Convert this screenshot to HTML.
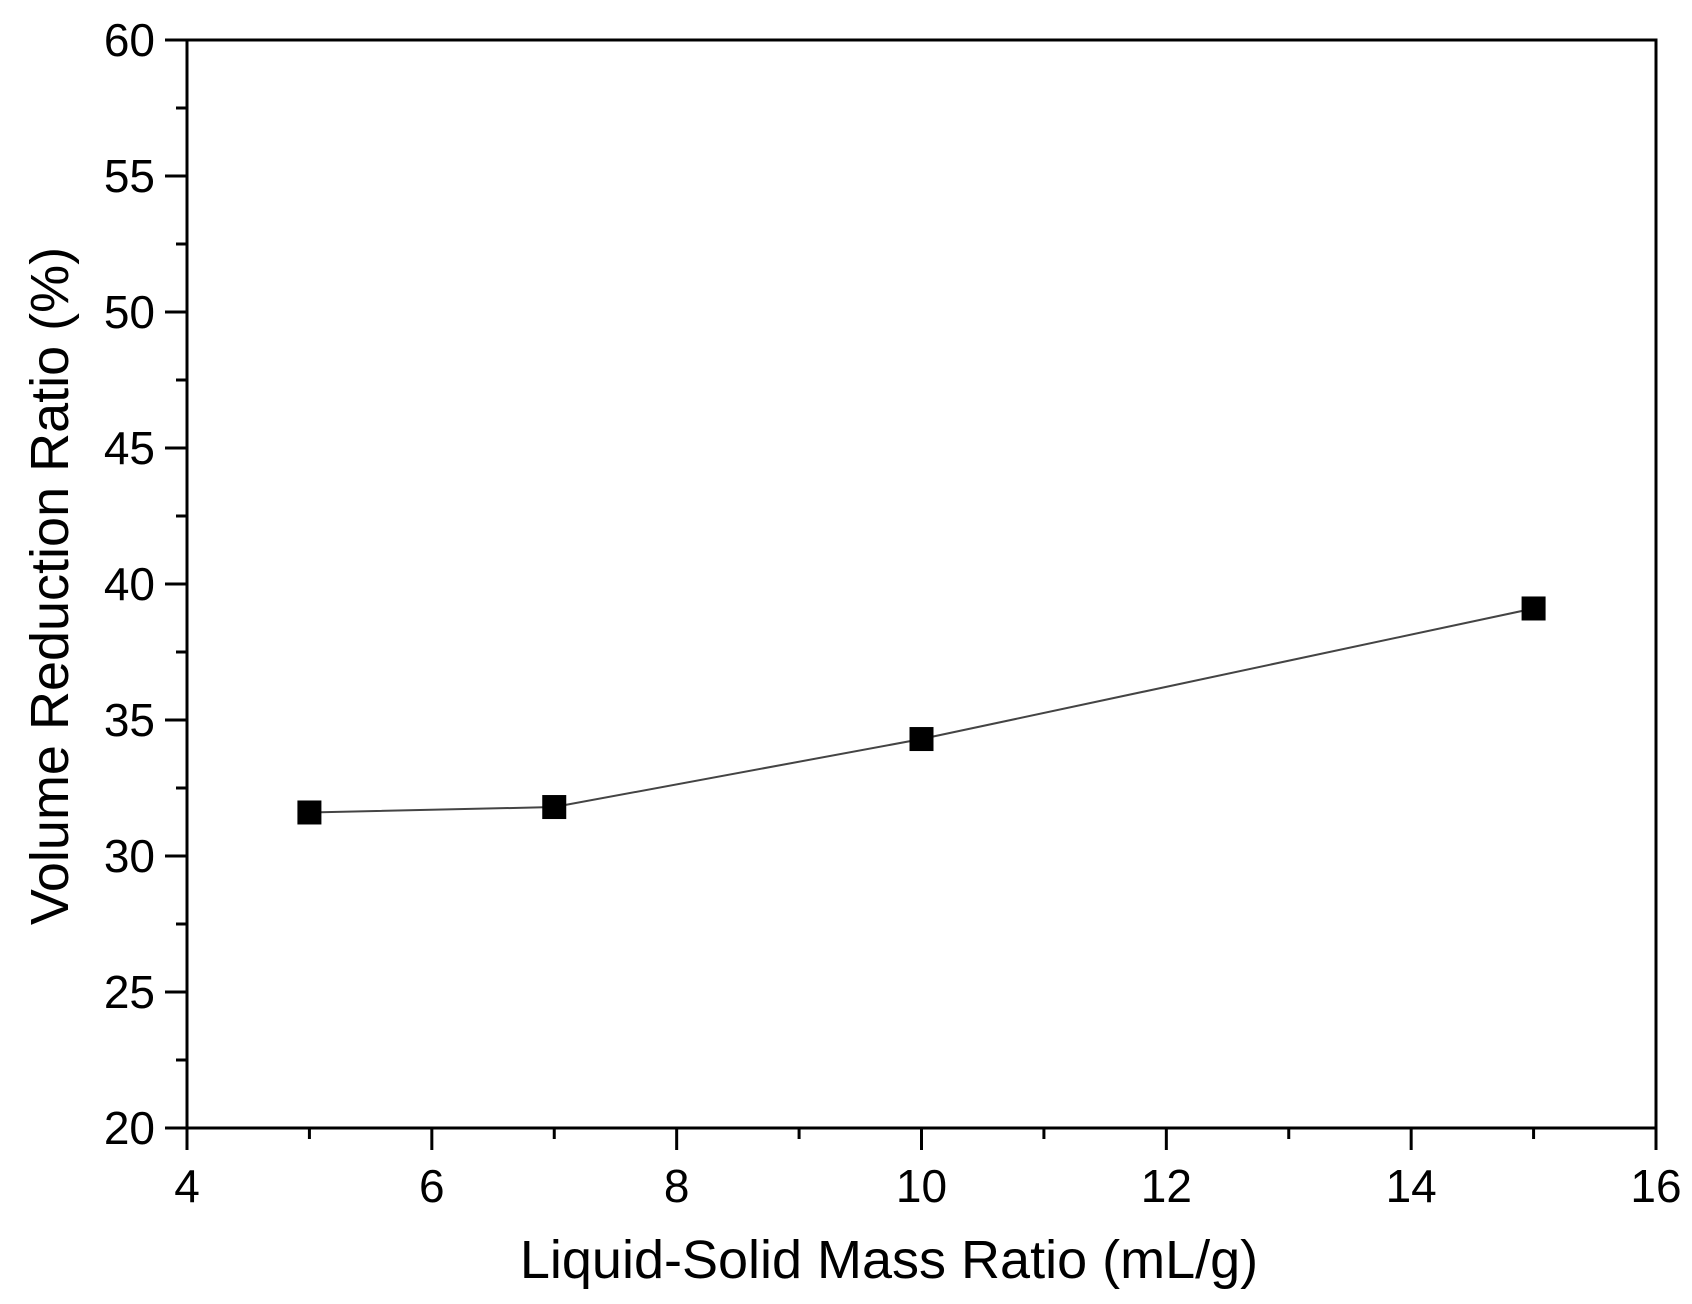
<!DOCTYPE html>
<html><head><meta charset="utf-8"><style>body{margin:0;background:#fff}svg text{font-family:"Liberation Sans",sans-serif;fill:#000}</style></head>
<body>
<svg id="chart" width="1692" height="1299" xmlns="http://www.w3.org/2000/svg"></svg>
<script>
const xVals=[5,7,10,15];
const yVals=[31.6,31.8,34.3,39.1];
const xTicks=[4,6,8,10,12,14,16];
const yTicks=[20,25,30,35,40,45,50,55,60];
const L=187,R=1656,T=40,B=1128;
const sx=v=>L+(v-4)/12*(R-L);
const sy=v=>B-(v-20)/40*(B-T);
const svg=document.getElementById('chart');
const NS='http://www.w3.org/2000/svg';
function mk(t,a,p){const e=document.createElementNS(NS,t);for(const k in a)e.setAttribute(k,a[k]);(p||svg).appendChild(e);return e;}
const frame=mk('rect',{x:L,y:T,width:R-L,height:B-T,fill:'none',stroke:'#000','stroke-width':3});


for(let v=4;v<=16;v++){const x=sx(v);const maj=v%2==0;
 const t=mk('line',{x1:x,y1:B,x2:x,y2:B+(maj?22:11),stroke:'#000','stroke-width':3});
 
 }
xTicks.forEach(v=>{const t=mk('text',{x:sx(v),y:1202,'text-anchor':'middle','font-size':46});t.textContent=v;
 
 });
for(let v=20;v<=60;v+=2.5){const y=sy(v);const maj=v%5==0;
 const t=mk('line',{x1:L,y1:y,x2:L-(maj?22:11),y2:y,stroke:'#000','stroke-width':3});
 
 }
yTicks.forEach(v=>{const t=mk('text',{x:155,y:sy(v)+16,'text-anchor':'end','font-size':46});t.textContent=v;
 
 });
const xt=mk('text',{x:889,y:1278,'text-anchor':'middle','font-size':54});xt.textContent='Liquid-Solid Mass Ratio (mL/g)';


const yt=mk('text',{x:0,y:0,'text-anchor':'middle','font-size':54,transform:'translate(68,586) rotate(-90)'});yt.textContent='Volume Reduction Ratio (%)';


const ln=mk('polyline',{points:xVals.map((x,i)=>sx(x)+','+sy(yVals[i])).join(' '),fill:'none',stroke:'#444','stroke-width':2});


xVals.forEach((x,i)=>{const m=mk('rect',{x:sx(x)-12,y:sy(yVals[i])-12,width:24,height:24,fill:'#000'});
 
 });
</script>
</body></html>
